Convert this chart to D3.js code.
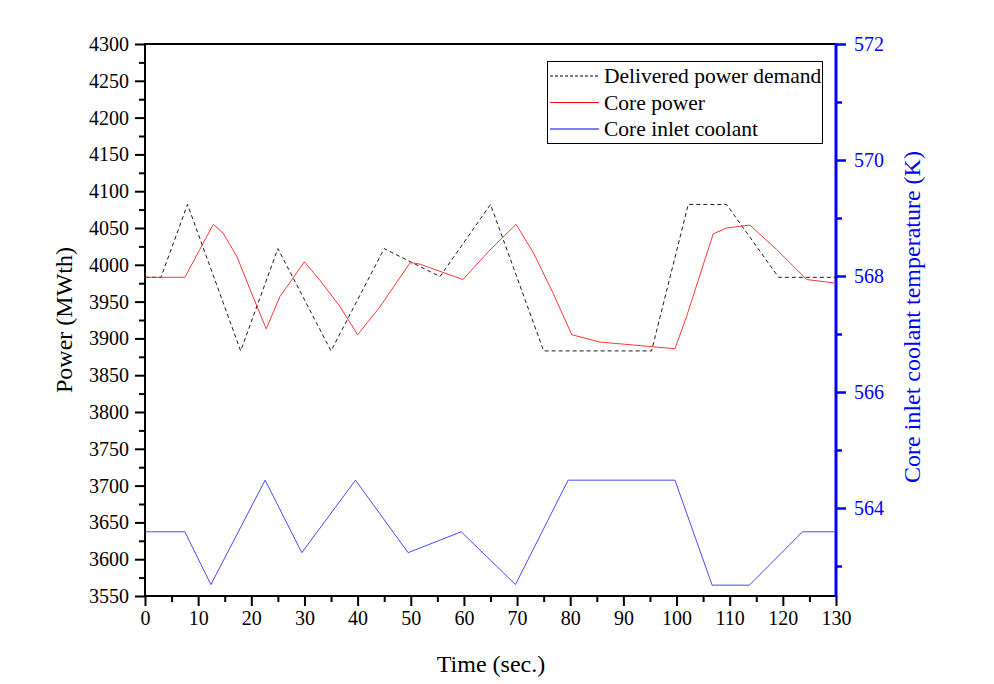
<!DOCTYPE html>
<html>
<head>
<meta charset="utf-8">
<script src="https://cdn.jsdelivr.net/npm/d3@7"></script>
<style>
  html, body { margin: 0; padding: 0; background: #fff; }
  svg { display: block; }
  text { font-family: "Liberation Serif", "Times New Roman", serif; }
</style>
</head>
<body>
<svg id="chart" width="994" height="684"></svg>
<script>
// ---- data ----
const demandTime  = [0, 3, 8, 18, 25, 35, 45, 55.5, 65, 75, 95.3, 102.2, 109.4, 119.2, 130];
const demandPower = [3983, 3983, 4082, 3883, 4022, 3883, 4022, 3984, 4082, 3883, 3883, 4082, 4082, 3983, 3983];

const coreTime  = [0, 7.5, 12.85, 14.7, 17.3, 19.8, 22.8, 25.4, 30.0, 32.9, 36.7, 40.0, 44.2, 49.9, 51.7, 59.8, 64.9, 69.8, 73.1, 76.8, 80.3, 85.6, 95.0, 99.7, 101.9, 106.9, 109.4, 113.8, 118.8, 124.5, 130];
const corePower = [3983, 3983, 4055, 4043, 4011, 3966, 3913, 3957, 4004, 3979, 3943, 3905, 3943, 4003, 4001, 3980, 4020, 4055, 4016, 3961, 3905, 3895, 3889, 3886, 3930, 4042, 4050, 4054, 4021, 3980, 3975];

const coolTime = [0, 7.5, 12.4, 22.6, 29.5, 39.6, 49.5, 59.5, 69.7, 79.6, 99.7, 106.7, 113.7, 123.7, 130];
const coolTemp = [563.59, 563.59, 562.68, 564.48, 563.23, 564.48, 563.23, 563.59, 562.68, 564.48, 564.48, 562.67, 562.67, 563.59, 563.59];

const xTicks      = [0, 10, 20, 30, 40, 50, 60, 70, 80, 90, 100, 110, 120, 130];
const powerTicks  = [3550, 3600, 3650, 3700, 3750, 3800, 3850, 3900, 3950, 4000, 4050, 4100, 4150, 4200, 4250, 4300];
const tempTicks   = [564, 566, 568, 570, 572];
const timeDomain  = [0, 130];
const powerDomain = [3550, 4300];
const tempDomain  = [562.483, 572];

const seriesNames = ["Delivered power demand", "Core power", "Core inlet coolant"];

// ---- layout ----
const L = 145, R = 836, T = 44, B = 596;
const svg = d3.select("#chart");

const x  = d3.scaleLinear(timeDomain, [L, R]);
const yL = d3.scaleLinear(powerDomain, [B, T]);
const yR = d3.scaleLinear(tempDomain, [B, T]);

// minor ticks
const xMinor = d3.range(5, 130, 10);
const pMinor = d3.range(3575, 4300, 50);
const tMinor = [563, 565, 567, 569, 571];

const fontTick = 20;

// bottom axis
svg.append("g").attr("transform", `translate(0,${B})`)
  .call(d3.axisBottom(x).tickValues(xTicks).tickFormat(d3.format("d")).tickSize(10).tickSizeOuter(0).tickPadding(5));
svg.append("g").attr("transform", `translate(0,${B})`)
  .call(d3.axisBottom(x).tickValues(xMinor).tickFormat("").tickSize(6).tickSizeOuter(0));

// left axis
svg.append("g").attr("transform", `translate(${L},0)`)
  .call(d3.axisLeft(yL).tickValues(powerTicks).tickFormat(d3.format("d")).tickSize(10).tickSizeOuter(0).tickPadding(6));
svg.append("g").attr("transform", `translate(${L},0)`)
  .call(d3.axisLeft(yL).tickValues(pMinor).tickFormat("").tickSize(6).tickSizeOuter(0));

// right axis
svg.append("g").attr("transform", `translate(${R},0)`).attr("class", "right")
  .call(d3.axisRight(yR).tickValues(tempTicks).tickFormat(d3.format("d")).tickSize(10).tickSizeOuter(0).tickPadding(8));
svg.append("g").attr("transform", `translate(${R},0)`).attr("class", "right")
  .call(d3.axisRight(yR).tickValues(tMinor).tickFormat("").tickSize(6).tickSizeOuter(0));

svg.selectAll(".domain").remove();
svg.selectAll("g").attr("font-family", "'Liberation Serif', serif");
svg.selectAll(".tick line").attr("stroke", "#000").attr("stroke-width", 2);
svg.selectAll(".tick text").attr("font-size", fontTick).attr("fill", "#000");
svg.selectAll(".right .tick line").attr("stroke", "#0000ff").attr("stroke-width", 2.5);
svg.selectAll(".right .tick text").attr("fill", "#0000ff");

// frame lines
svg.append("line").attr("x1", L - 1).attr("x2", R).attr("y1", T).attr("y2", T).attr("stroke", "#000").attr("stroke-width", 2);
svg.append("line").attr("x1", L - 1).attr("x2", R).attr("y1", B).attr("y2", B).attr("stroke", "#000").attr("stroke-width", 2);
svg.append("line").attr("x1", L).attr("x2", L).attr("y1", T - 1).attr("y2", B + 1).attr("stroke", "#000").attr("stroke-width", 2);
svg.append("line").attr("x1", R).attr("x2", R).attr("y1", T - 1).attr("y2", B + 1).attr("stroke", "#0000ff").attr("stroke-width", 3);

// series
const lineP = d3.line().x(d => x(d[0])).y(d => yL(d[1]));
const lineT = d3.line().x(d => x(d[0])).y(d => yR(d[1]));

svg.append("path").datum(coolTime.map((t, i) => [t, coolTemp[i]]))
  .attr("d", lineT).attr("fill", "none").attr("stroke", "#3333ff").attr("stroke-width", 0.9);
svg.append("path").datum(demandTime.map((t, i) => [t, demandPower[i]]))
  .attr("d", lineP).attr("fill", "none").attr("stroke", "#000").attr("stroke-width", 0.9)
  .attr("stroke-dasharray", "4,3");
svg.append("path").datum(coreTime.map((t, i) => [t, corePower[i]]))
  .attr("d", lineP).attr("fill", "none").attr("stroke", "#ff2020").attr("stroke-width", 0.9);

// axis titles
svg.append("text").attr("x", 491).attr("y", 672).attr("text-anchor", "middle")
  .attr("font-size", 24).attr("fill", "#000").text("Time (sec.)");
svg.append("text").attr("transform", "translate(72,320) rotate(-90)").attr("text-anchor", "middle")
  .attr("font-size", 24).attr("fill", "#000").text("Power (MWth)");
svg.append("text").attr("transform", "translate(920,317) rotate(-90)").attr("text-anchor", "middle")
  .attr("font-size", 24).attr("fill", "#0000ff").text("Core inlet coolant temperature (K)");

// legend
const lg = svg.append("g");
lg.append("rect").attr("x", 547.5).attr("y", 61.5).attr("width", 275).attr("height", 82)
  .attr("fill", "#fff").attr("stroke", "#000").attr("stroke-width", 1);
const legStyles = [
  {stroke: "#000", dash: "3,2"},
  {stroke: "#ff0000", dash: null},
  {stroke: "#0000ff", dash: null}
];
seriesNames.forEach((name, i) => {
  const yy = 76 + i * 26.5;
  lg.append("line").attr("x1", 550).attr("x2", 599).attr("y1", yy).attr("y2", yy)
    .attr("stroke", legStyles[i].stroke).attr("stroke-width", 1.2)
    .attr("stroke-dasharray", legStyles[i].dash);
  lg.append("text").attr("x", 604).attr("y", yy + 7).attr("font-size", 21.5).attr("fill", "#000").text(name);
});
</script>
</body>
</html>
